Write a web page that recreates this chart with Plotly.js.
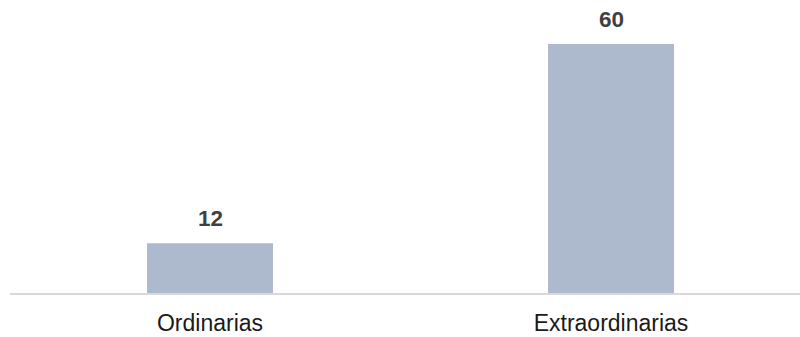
<!DOCTYPE html>
<html>
<head>
<meta charset="utf-8">
<script src="https://cdn.plot.ly/plotly-3.0.1.min.js"></script>
<style>html,body{margin:0;padding:0;background:#fff;}#chart{width:800px;height:337px;}</style>
</head>
<body>
<div id="chart"></div>
<script>
var categories = ["Ordinarias", "Extraordinarias"];
var values = [12, 60];
var valueLabels = ["12", "60"];

var trace = {
  type: "bar",
  x: categories,
  y: values,
  marker: {color: "#adb9cc"},
  hoverinfo: "none"
};

var annotations = categories.map(function (c, i) {
  return {
    x: c, y: values[i], text: "<b>" + valueLabels[i] + "</b>",
    showarrow: false, yanchor: "bottom", yshift: 10,
    font: {family: "Liberation Sans, Arial, sans-serif", size: 22.5, color: "#404040"}
  };
});

var layout = {
  width: 800, height: 337,
  margin: {l: 10, r: 0, t: 19, b: 44},
  paper_bgcolor: "#fff", plot_bgcolor: "#fff",
  bargap: 0.686,
  showlegend: false,
  xaxis: {
    type: "category",
    range: [-0.4988, 1.4713],
    showgrid: false, zeroline: false,
    showline: true, linecolor: "#d9d9d9", linewidth: 2,
    ticks: "outside", ticklen: 8, tickcolor: "rgba(0,0,0,0)",
    tickfont: {family: "Liberation Sans, Arial, sans-serif", size: 23, color: "#1a1a1a"}
  },
  yaxis: {
    range: [0, 66.02], visible: false, showgrid: false, zeroline: false
  },
  annotations: annotations
};

Plotly.newPlot("chart", [trace], layout, {displayModeBar: false, staticPlot: true});
</script>
</body>
</html>
